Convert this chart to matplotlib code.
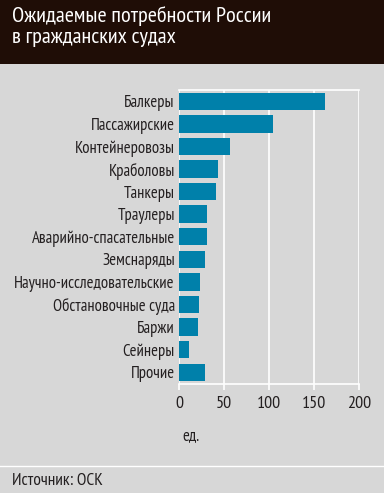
import matplotlib
matplotlib.use("Agg")
import matplotlib.pyplot as plt
from matplotlib import font_manager
from matplotlib.font_manager import FontProperties
from matplotlib.ft2font import FT2Font
from matplotlib.patches import Rectangle
from matplotlib.lines import Line2D

categories = ["Балкеры", "Пассажирские", "Контейнеровозы", "Краболовы", "Танкеры",
              "Траулеры", "Аварийно-спасательные", "Земснаряды",
              "Научно-исследовательские", "Обстановочные суда", "Баржи",
              "Сейнеры", "Прочие"]
values = [162, 104, 57, 43, 41, 31, 31, 29, 23, 22, 21, 11, 29]
xticks = [0, 50, 100, 150, 200]
title = "Ожидаемые потребности России\nв гражданских судах"
unit = "ед."
source = "Источник: ОСК"

BG = "#d7d7d7"
HEADER = "#1f0d06"
BAR = "#0080aa"
TEXT = "#231f20"


def has_cyrillic(path):
    try:
        font = FT2Font(path)
        return all(font.get_char_index(ord(c)) != 0 for c in "БжыЙ")
    except Exception:
        return False


def narrow_font():
    """Find an installed upright, regular-weight condensed sans font with Cyrillic."""
    found = []
    for f in font_manager.fontManager.ttflist:
        key = (f.name + " " + f.fname).lower()
        if not ("narrow" in key or "condensed" in key):
            continue
        if f.style != "normal" or f.weight not in (400, "normal", "regular"):
            continue
        if any(w in key for w in ("bold", "oblique", "italic", "light", "thin",
                                  "medium", "black", "mono", "serif")):
            continue
        if not has_cyrillic(f.fname):
            continue
        rank = 0 if "narrow" in key else (1 if "condensed" in f.name.lower() else 2)
        found.append((rank, f.fname))
    found.sort()
    return found[0][1] if found else None


path = narrow_font()
if path:
    fp = lambda size: FontProperties(fname=path, size=size)
else:
    fp = lambda size: FontProperties(family="DejaVu Sans", size=size * 0.85)

W, H = 384, 493
fig = plt.figure(figsize=(W / 100, H / 100), dpi=100, facecolor=BG)

# header band
fig.patches.append(Rectangle((0, 1 - 64 / H), 1, 64 / H, transform=fig.transFigure,
                             facecolor=HEADER, edgecolor="none", zorder=0))
fig.text(12 / W, 1 - 6 / H, title, color="white", fontproperties=fp(16),
         va="top", ha="left", linespacing=1.15)

# footer separator and source
fig.lines.append(Line2D([0, 1], [1 - 466 / H] * 2, transform=fig.transFigure,
                        color="white", lw=1))
fig.text(12 / W, 1 - 481 / H, source, color=TEXT, fontproperties=fp(12.5),
         va="center", ha="left")

ax = fig.add_axes([179 / W, 1 - 383.5 / H, 180 / W, 293.5 / H])
ax.set_facecolor(BG)
y = list(range(len(categories)))
ax.barh(y, values, height=0.77, color=BAR, zorder=3)
ax.set_ylim(len(categories) - 0.5, -0.5)
ax.set_xlim(0, 200)
ax.set_xticks(xticks)
ax.set_xticklabels([str(t) for t in xticks], fontproperties=fp(13))
ax.set_yticks(y)
ax.set_yticklabels(categories, fontproperties=fp(12))
ax.grid(axis="x", color="white", lw=1.2, zorder=1)
for s in ["left", "right"]:
    ax.spines[s].set_visible(False)
for s in ["top", "bottom"]:
    ax.spines[s].set_color("white")
    ax.spines[s].set_linewidth(1.2)
ax.tick_params(axis="y", length=0, pad=3, labelcolor=TEXT)
ax.tick_params(axis="x", length=4, width=1.2, color="white", pad=5, labelcolor=TEXT)
fig.text(182 / W, 1 - 436 / H, unit, color=TEXT, fontproperties=fp(12),
         va="center", ha="left")

fig.savefig("out.png", dpi=100, facecolor=BG)
